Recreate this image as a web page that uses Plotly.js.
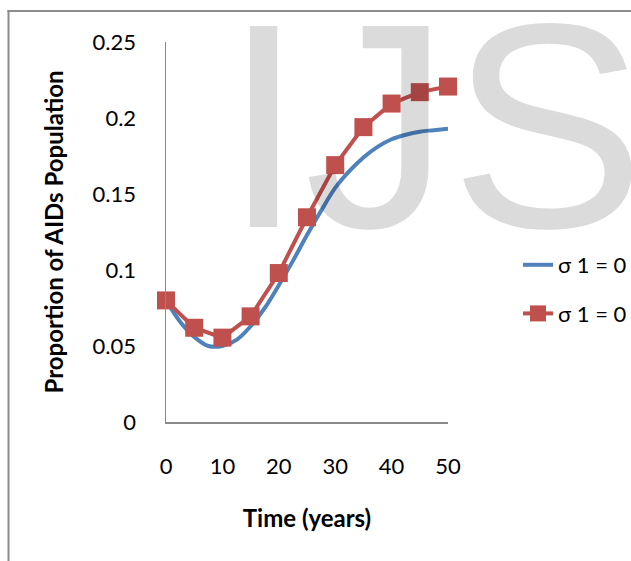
<!DOCTYPE html>
<html>
<head>
<meta charset="utf-8">
<script src="https://cdn.plot.ly/plotly-3.0.1.min.js"></script>
<style>
  html, body { margin: 0; padding: 0; background: #ffffff; }
  #chart { width: 631px; height: 561px; }
</style>
</head>
<body>
<div id="chart"></div>
<script>
// ---- data ----
const blueTime = [0, 2.5, 5, 7.5, 10, 12.5, 15, 17.5, 20, 22.5, 25, 27.5, 30, 32.5, 35, 37.5, 40, 42.5, 45, 47.5, 50];
const blueValues = [0.080, 0.066, 0.056, 0.050, 0.050, 0.054, 0.063, 0.075, 0.090, 0.106, 0.123, 0.139, 0.154, 0.165, 0.174, 0.181, 0.186, 0.189, 0.191, 0.192, 0.193];
const redTime = [0, 5, 10, 15, 20, 25, 30, 35, 40, 45, 50];
const redValues = [0.080, 0.062, 0.0555, 0.0695, 0.098, 0.1347, 0.169, 0.194, 0.2095, 0.217, 0.2207];
const seriesNames = ["σ 1 = 0", "σ 1 = 0"];
const xTickVals = [0, 10, 20, 30, 40, 50];
const xTickText = ["0", "10", "20", "30", "40", "50"];
const yTickVals = [0, 0.05, 0.1, 0.15, 0.2, 0.25];
const yTickText = ["0", "0.05", "0.1", "0.15", "0.2", "0.25"];
const xTitle = "Time (years)";
const yTitle = "Proportion of AIDs Population";
const watermarkText = "IJS";

// ---- geometry ----
const W = 631, H = 561;
const M = { l: 166, r: 183, t: 42, b: 139 };
const pw = W - M.l - M.r, ph = H - M.t - M.b;
const px2x = p => (p - M.l) / pw;
const py2y = p => (H - M.b - p) / ph;

const FONT = "Lato, 'Open Sans', 'Liberation Sans', sans-serif";
const BLUE = "#4F81BD", RED = "#C0504D";

const traces = [
  {
    x: blueTime, y: blueValues, name: seriesNames[0], type: "scatter", mode: "lines",
    line: { color: BLUE, width: 4, shape: "spline", smoothing: 1 },
    legendgroup: "a", cliponaxis: false
  },
  {
    x: redTime, y: redValues, name: seriesNames[1], type: "scatter", mode: "lines+markers",
    line: { color: RED, width: 4 },
    marker: { symbol: "square", size: 18, color: RED, line: { width: 0 } },
    legendgroup: "b", cliponaxis: false
  }
];

const layout = {
  width: W, height: H,
  margin: { l: M.l, r: M.r, t: M.t, b: M.b, autoexpand: false },
  paper_bgcolor: "#ffffff", plot_bgcolor: "#ffffff",
  showlegend: true,
  font: { family: FONT, color: "#000000", size: 22 },
  xaxis: {
    range: [0, 50], tickvals: xTickVals, ticktext: xTickText,
    showgrid: false, zeroline: false, showline: true, linecolor: "#898989", linewidth: 1.5,
    ticks: "", ticklabelstandoff: 24,
    tickfont: { family: FONT, size: 22, color: "#000" },
    title: { text: xTitle, font: { family: FONT, size: 24, color: "#000", weight: "bold" }, standoff: 32 },
    automargin: false
  },
  yaxis: {
    range: [0, 0.25], tickvals: yTickVals, ticktext: yTickText,
    showgrid: false, zeroline: false, showline: true, linecolor: "#898989", linewidth: 1.5,
    ticks: "", ticklabelstandoff: 24,
    tickfont: { family: FONT, size: 22, color: "#000" },
    title: { text: yTitle, font: { family: FONT, size: 24, color: "#000", weight: "bold" }, standoff: 22 },
    automargin: false
  },
  legend: {
    x: px2x(518), xanchor: "left", y: py2y(244), yanchor: "top",
    bgcolor: "rgba(0,0,0,0)", borderwidth: 0,
    font: { family: FONT, size: 22, color: "#000" },
    traceorder: "grouped", tracegroupgap: 17
  },
  annotations: [
    {
      text: watermarkText, xref: "paper", yref: "paper",
      x: px2x(221), xanchor: "left", y: py2y(126), yanchor: "middle",
      showarrow: false,
      font: { family: "'Liberation Sans', Arial, sans-serif", size: 292, color: "rgba(0,0,0,0.14)" }
    }
  ],
  shapes: [
    { type: "line", xref: "paper", yref: "paper", x0: px2x(8.5), x1: px2x(8.5), y0: py2y(10), y1: py2y(565),
      line: { color: "#8c8c8c", width: 2 } },
    { type: "line", xref: "paper", yref: "paper", x0: px2x(7.5), x1: px2x(640), y0: py2y(11), y1: py2y(11),
      line: { color: "#8c8c8c", width: 2 } }
  ]
};

Plotly.newPlot("chart", traces, layout, { displayModeBar: false, staticPlot: true });
</script>
</body>
</html>
